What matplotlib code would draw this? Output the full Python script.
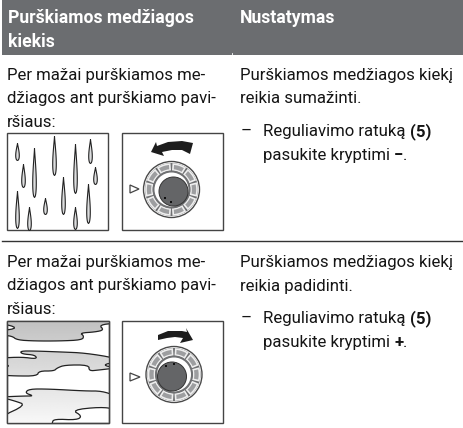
import numpy as np
import matplotlib
matplotlib.use('Agg')
from matplotlib import pyplot as plt
from matplotlib.patches import Rectangle, Circle, Wedge, Polygon

plt.rcParams['font.family'] = ['Roboto', 'DejaVu Sans']

headers = [['Purškiamos medžiagos', 'kiekis'], ['Nustatymas']]
left_lines = ['Per mažai purškiamos me-', 'džiagos ant purškiamo pavi-', 'ršiaus:']
right_top = ['Purškiamos medžiagos kiekį', 'reikia sumažinti.']
right_bottom = ['Purškiamos medžiagos kiekį', 'reikia padidinti.']
step_1 = ['Reguliavimo ratuką ', '(5)']
step_top = ['pasukite kryptimi ', '−', '.']
step_bottom = ['pasukite kryptimi ', '+', '.']

# x, top, bottom of each drop
drops_x = [17, 23, 34, 54, 75, 90, 95, 63, 45, 17, 29, 75, 88]
drops_top = [143, 164, 148, 136, 144, 139, 167, 177, 198, 191, 207, 207, 184]
drops_bottom = [160, 187, 197, 175, 193, 163, 184, 214, 214, 228, 230, 229, 223]

# stains, outline of each one, running past the box where they get cut
stain_1 = [(0,316),(116,316),(116,323),(99,325),(104,330),(95,332),(80,333),(84,336),(82,340),(59,341),(35,341),(17,340),(12,336),(0,335),(0,331),(19,328),(0,323)]
stain_2 = [(20,351),(35,351),(62,352),(85,353),(116,358),(116,362),(102,365),(116,368),(99,370),(89,371),(89,365),(65,365),(57,368),(54,371),(39,371),(37,376),(15,376),(0,375),(0,368),(11,366),(0,363),(0,358),(22,357),(37,359),(35,355),(22,354)]
stain_3 = [(29,389),(49,389),(85,391),(102,391),(116,396),(116,409),(100,407),(72,410),(82,416),(77,420),(54,419),(52,423),(52,430),(0,430),(0,417),(26,405),(15,401),(0,397),(24,396),(34,396),(25,393)]
stain_shade = [0.76, 0.97]

arrow_up = [(193,143),(182,141),(168,142),(157,146),(156,142),(151,152),(164,156),(162,152),(172,150),(182,150),(190,154)]
arrow_down = [(158,335),(168,331),(182,331),(187,332),(186,328),(193,340),(180,343),(183,338),(175,337),(167,338),(158,340)]

DARK = '#151515'
HEAD = '#6b6d70'
FS = 12.1

fig = plt.figure(figsize=(4.63, 4.28), dpi=100)
ax = fig.add_axes([0, 0, 1, 1])
ax.set_xlim(0, 463)
ax.set_ylim(428, 0)
ax.axis('off')


def txt(x, y, s, **kw):
	kw.setdefault('color', DARK)
	kw.setdefault('fontsize', FS)
	return ax.text(x, y, s, va='baseline', ha='left', **kw)


def run(x, y, parts, bold_idx):
	# pieces of one line, some of them bold
	r = fig.canvas.get_renderer()
	for i, p in enumerate(parts):
		t = txt(x, y, p, fontweight='bold' if i == bold_idx else 'normal')
		x += t.get_window_extent(r).width


def smooth(pts, n=2):
	# corner cutting so the stain edges look hand drawn
	p = np.array(pts, dtype=float)
	for _ in range(n):
		q = np.roll(p, -1, axis=0)
		p = np.column_stack([0.75 * p + 0.25 * q, 0.25 * p + 0.75 * q]).reshape(-1, 2)
	return p


def dial(cx, cy, knob_dx, marks):
	ax.add_patch(Circle((cx, cy), 28, fc='white', ec='#4a4a4a', lw=1.0))
	ax.add_patch(Circle((cx, cy), 26.5, fc='#6f7072', ec='none'))
	for a in np.arange(-18, 342, 36):
		ax.add_patch(Wedge((cx, cy), 25.5, a + 4, a + 32, width=6, fc='#9d9ea0', ec='#eeeeee', lw=1.2))
	ax.add_patch(Circle((cx, cy), 19, fc='#6f7072', ec='none'))
	ax.add_patch(Circle((cx, cy), 17, fc='white', ec='none'))
	ax.add_patch(Circle((cx + knob_dx, cy + 2), 14.5, fc='#646567', ec='#333333', lw=0.7))
	for mx, my in marks:
		ax.add_patch(Rectangle((cx + mx - 1, cy + my - 1), 2, 2, fc='#111111', ec='none'))


def box(x, y, w, h):
	ax.add_patch(Rectangle((x, y), w, h, fc='white', ec='#444444', lw=1.0))


# header band
ax.add_patch(Rectangle((2, 0), 461, 55, fc=HEAD, ec='none'))
ax.plot([232, 232], [53, 55], color='white', lw=0.6)
for y, s in zip([23, 47], headers[0]):
	txt(8, y, s, color='white', fontweight='bold', fontsize=FS + 0.6)
txt(240, 23, headers[1][0], color='white', fontweight='bold', fontsize=FS + 0.6)

# left column text
for base in [0, 187]:
	for y, s in zip([80, 103, 127], left_lines):
		txt(7, y + base, s)

# right column text
for y, s in zip([80, 103], right_top):
	txt(240, y, s)
for y, s in zip([267, 291], right_bottom):
	txt(240, y, s)
txt(241, 136, '–')
txt(241, 323, '–')
run(263, 136, step_1, 1)
run(263, 160, step_top, 1)
run(263, 323, step_1, 1)
run(263, 347, step_bottom, 1)

# separator
ax.plot([2, 463], [241, 241], color='#333333', lw=1.0)

# upper pictures
box(7, 133, 101, 97)
box(122, 133, 101, 97)
for x, t, b in zip(drops_x, drops_top, drops_bottom):
	s = np.linspace(0, 1, 40)
	w = 5 * s ** 1.2 * np.sqrt(1 - s)
	ax.fill_betweenx(t + (b - t) * s, x - w, x + w, fc='#dcddde', ec='#222222', lw=0.8)
ax.add_patch(Polygon(arrow_up, fc='#1d1d1d', ec='none'))
ax.add_patch(Polygon([(130, 185), (130, 193), (139, 189)], fc='white', ec='#444444', lw=0.9))
dial(171.5, 189.5, 2, [(-6.5, 8), (-0.5, 12)])

# lower pictures
box(7, 321, 102, 102)
box(122, 321, 101, 102)
clip_box = Rectangle((7, 321), 102, 102, transform=ax.transData)
grad = np.linspace(stain_shade[0], stain_shade[1], 100).reshape(-1, 1)
for pts in [stain_1, stain_2, stain_3]:
	patch = Polygon(smooth(pts), fc='none', ec='#222222', lw=0.9, zorder=3)
	ax.add_patch(patch)
	im = ax.imshow(grad, extent=(7, 109, 423, 321), cmap='gray', vmin=0, vmax=1, aspect='auto', zorder=2)
	im.set_clip_path(patch)
	patch.set_clip_path(clip_box)
ax.set_xlim(0, 463)
ax.set_ylim(428, 0)
ax.add_patch(Rectangle((7, 321), 102, 102, fc='none', ec='#444444', lw=1.0, zorder=4))
ax.add_patch(Polygon(arrow_down, fc='#1d1d1d', ec='none'))
ax.add_patch(Polygon([(130, 373), (130, 381), (140, 377)], fc='white', ec='#444444', lw=0.9))
dial(174, 374.5, -2, [(-8, -9), (-0.5, -11)])

fig.savefig('out.png', dpi=100)
